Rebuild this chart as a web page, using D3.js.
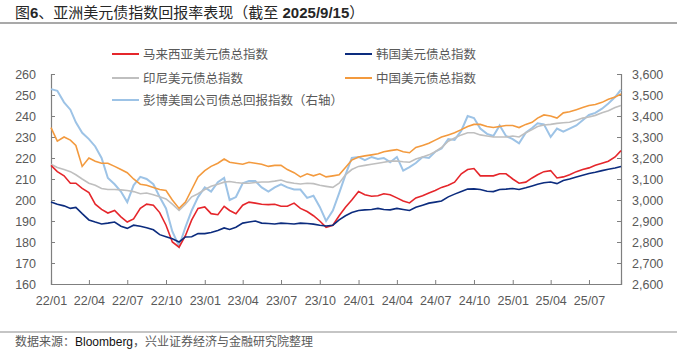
<!DOCTYPE html>
<html><head><meta charset="utf-8">
<script src="https://cdn.jsdelivr.net/npm/d3@7"></script>
<style>
html,body{margin:0;padding:0;background:#fff;}
svg text{font-family:"Liberation Sans","Noto Sans CJK SC",sans-serif;}
</style></head>
<body><svg id="c" width="677" height="350"></svg>
<script>
// half-monthly observation dates
const dates = (function(){const a=[];for(let y=2022;y<=2025;y++){for(let m=0;m<12;m++){if(y===2025&&m>8)break;a.push(new Date(y,m,1));a.push(new Date(y,m,16));}}a.pop();a.push(new Date(2025,8,15));return a;})();

const malaysia = [216.5,213.5,211.5,208,208,205.5,203.5,198,195.5,193.8,195,192,189.5,191,196,198,197.5,194,188,180,177.5,183,190.5,196,196.7,193.5,193,197,195,193.5,197.5,199,198.5,198,197.8,198,197,197,198.5,196,194.5,192.5,190,187,188,192.5,196.5,200,204,202.5,201.8,202,203,202.5,201,199.5,198.6,201,202,203.3,204.5,206,207,208.5,212.5,214.5,215,211.5,211.5,211.5,212.5,212.5,210,208,208.5,210.5,212,213.5,214,210.5,211,212,213.5,214.5,215.3,216.5,217.5,218.5,220.5,223.5];
const korea = [199,198,197.2,196,196.5,193.5,190.5,189.5,188.6,189,189.5,187.5,186.5,188,187.5,186.8,185.8,183.5,182.5,181.5,180,182.4,182.5,184,184,184.5,185.5,186.7,186,187,189,189.5,190,189,188.8,188.6,189,188.8,188.6,189,188.8,188.5,188,187.6,188,190.5,192.5,194,195,195.3,195.5,196,195.5,195.3,196,195.5,195,196.5,197.5,198.5,199,199.5,201.5,202.8,204,205.2,205.3,205,204.2,204,205,205.2,205.5,205,205.8,206.7,207.5,208.2,208.6,207.8,209.3,210,211,211.8,212.6,213.2,214,214.6,215.2,216];
const indonesia = [217,215.5,214.5,213.5,212,210,208,207,205.5,205,205,204.8,204.5,204,203,203.3,202.5,201.5,200.5,198,195,198,201.5,203,205,206.5,207.5,208.5,208.8,208.3,208,208,208.3,208.6,208.6,209,209.5,208.5,208,207.6,208,207.8,207,206.5,206,208,212,214.5,216,216.5,217,217.5,218,218.5,218.6,218.2,218,219.5,220.5,221.5,223,225,228,229.5,231,232,232,231,230.5,230,230,230,230.5,230,232,233.5,235,235.7,236,236.5,236.8,237,238,239,239.5,240.3,241.5,242.5,244,245];
const china = [234.5,228,230,228.5,226,216,220,218.5,217.5,217.5,216,214.5,213,210,207.5,207,206,205,204.5,200,196,199,205,211,214,216,217.5,219.5,218,217.5,217,218,217.5,217,216,216.5,216.5,214.5,213,211,212.5,211.5,212.5,211,211.5,212,215.5,219,220.5,221,221.5,222,223,223.5,224,223,222.5,225,226,227,228.5,230,231,232,233.5,235,236,236,235,234.5,235,235.5,235.5,234.5,236,237,239,240.5,240,239,241.5,242,243,244,245,245.5,246.5,248,249,250.5];
const bbgUSCorp = [3528,3520,3465,3430,3370,3320,3290,3255,3200,3105,3075,3040,2990,3070,3110,3100,3075,3014,2960,2850,2780,2870,2950,3014,3060,3040,3085,3105,3000,3014,3080,3090,3090,3060,3040,3060,3075,3060,3050,3050,3010,3020,2967,2900,2950,3033,3120,3200,3205,3190,3205,3195,3200,3180,3205,3140,3157,3176,3205,3200,3230,3245,3290,3286,3330,3400,3390,3340,3315,3305,3355,3305,3290,3270,3320,3343,3365,3360,3300,3340,3325,3340,3355,3380,3405,3415,3435,3460,3490,3525];

const leftTicks = [160,170,180,190,200,210,220,230,240,250,260];
const rightTicks = [2600,2700,2800,2900,3000,3100,3200,3300,3400,3500,3600];
const xTickDates = ["2022-01","2022-04","2022-07","2022-10","2023-01","2023-04","2023-07","2023-10","2024-01","2024-04","2024-07","2024-10","2025-01","2025-04","2025-07"];

const seriesNames = ["马来西亚美元债总指数","韩国美元债总指数","印尼美元债总指数","中国美元债总指数","彭博美国公司债总回报指数（右轴）"];
const seriesColors = ["#e5262b","#0c2c7e","#bfbfbf","#f39a3e","#9dc3e6"];

const svg = d3.select("#c");
const L = 51, R = 621, T = 74, B = 284;
const x = d3.scaleTime().domain([new Date(2022,0,1), new Date(2025,8,15)]).range([L,R]);
const yL = d3.scaleLinear().domain([160,260]).range([B,T]);
const yR = d3.scaleLinear().domain([2600,3600]).range([B,T]);
const grey = "#595959";

// title
const title = svg.append("text").attr("x",15).attr("y",17.5).attr("font-size",15).attr("fill","#262626");
title.append("tspan").text("图");
title.append("tspan").attr("font-weight","bold").text("6");
title.append("tspan").text("、亚洲美元债指数回报率表现（截至 ");
title.append("tspan").attr("font-weight","bold").text("2025/9/15");
title.append("tspan").text("）");
svg.append("line").attr("x1",0).attr("x2",677).attr("y1",23).attr("y2",23).attr("stroke","#8c8c8c").attr("stroke-width",1.5);

// axes
const fmtR = d3.format(",");
const axL = svg.append("g").attr("transform",`translate(${L},0)`).call(d3.axisLeft(yL).tickValues(leftTicks).tickSize(-4).tickPadding(15).tickFormat(d3.format("d")));
const axR = svg.append("g").attr("transform",`translate(${R},0)`).call(d3.axisRight(yR).tickValues(rightTicks).tickSize(-4).tickPadding(11).tickFormat(fmtR));
const parse = d3.timeParse("%Y-%m");
const axB = svg.append("g").attr("transform",`translate(0,${B})`).call(d3.axisBottom(x).tickValues(xTickDates.map(parse)).tickSize(-4).tickPadding(12).tickFormat(d3.timeFormat("%y/%m")));
[axL,axR,axB].forEach(a=>{
  a.select(".domain").attr("stroke","#7f7f7f").attr("stroke-width",1.2);
  a.selectAll(".tick line").attr("stroke","#7f7f7f");
  a.selectAll("text").attr("fill",grey).attr("font-size",12.5).attr("font-family","Liberation Sans, Noto Sans CJK SC, sans-serif");
});

// lines
const lineL = d3.line().x((d,i)=>x(dates[i])).y(d=>yL(d)).curve(d3.curveLinear);
const lineR = d3.line().x((d,i)=>x(dates[i])).y(d=>yR(d)).curve(d3.curveLinear);
const g = svg.append("g");
g.append("path").datum(bbgUSCorp).attr("d",lineR).attr("fill","none").attr("stroke",seriesColors[4]).attr("stroke-width",2);
g.append("path").datum(indonesia).attr("d",lineL).attr("fill","none").attr("stroke",seriesColors[2]).attr("stroke-width",1.6);
g.append("path").datum(china).attr("d",lineL).attr("fill","none").attr("stroke",seriesColors[3]).attr("stroke-width",1.6);
g.append("path").datum(malaysia).attr("d",lineL).attr("fill","none").attr("stroke",seriesColors[0]).attr("stroke-width",1.6);
g.append("path").datum(korea).attr("d",lineL).attr("fill","none").attr("stroke",seriesColors[1]).attr("stroke-width",1.6);

// legend
const legendPos = [[112,54],[345,54],[112,78],[345,78],[112,100]];
const leg = svg.append("g");
seriesNames.forEach((n,i)=>{
  const [lx,ly] = legendPos[i];
  leg.append("line").attr("x1",lx).attr("x2",lx+27).attr("y1",ly).attr("y2",ly).attr("stroke",seriesColors[i]).attr("stroke-width",2);
  leg.append("text").attr("x",lx+31).attr("y",ly+4.5).attr("font-size",12.5).attr("fill",grey).text(n);
});

// footer
svg.append("line").attr("x1",0).attr("x2",677).attr("y1",332).attr("y2",332).attr("stroke","#8c8c8c").attr("stroke-width",1.2);
const ft = svg.append("text").attr("x",15).attr("y",346).attr("font-size",12).attr("fill",grey);
ft.append("tspan").text("数据来源：");
ft.append("tspan").attr("fill","#111").text("Bloomberg");
ft.append("tspan").text("，兴业证券经济与金融研究院整理");
</script></body></html>
